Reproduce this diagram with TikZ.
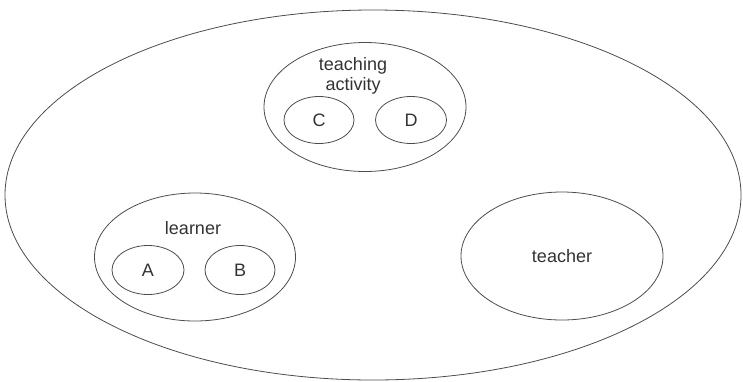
\documentclass[tikz,border=0pt]{standalone}
\usepackage{fontspec}
\setmainfont{Liberation Sans}
\usepackage{tikz}
\usetikzlibrary{shapes.geometric}

\begin{document}
\begin{tikzpicture}[x=1pt, y=-1pt,
    blob/.style={draw=black!70, line width=0.8pt, ellipse, inner sep=0pt, outer sep=0pt},
    lbl/.style={font=\fontsize{18}{20}\selectfont, text=black!80, align=center}]
    \useasboundingbox (0,0) rectangle (743,381);

    % Whole setting
    \node[blob, minimum width=736, minimum height=370] (world) at (373,195) {};

    % Teaching activity
    \node[blob, minimum width=202, minimum height=129] (activity) at (365,107) {};
    \node[lbl] (activitytext) at (353,76) {teaching\\activity};
    \node[blob, minimum width=70, minimum height=47] (C) at (319,120) {};
    \node[blob, minimum width=71, minimum height=47] (D) at (411,120) {};
    \node[lbl] (Ctext) at (C) {C};
    \node[lbl] (Dtext) at (D) {D};

    % Learner
    \node[blob, minimum width=201, minimum height=128] (learner) at (195,257) {};
    \node[lbl] (learnertext) at (193,228) {learner};
    \node[blob, minimum width=72, minimum height=49] (A) at (148,270) {};
    \node[blob, minimum width=70, minimum height=49] (B) at (240,270) {};
    \node[lbl] (Atext) at (A) {A};
    \node[lbl] (Btext) at (B) {B};

    % Teacher
    \node[blob, minimum width=202, minimum height=128] (teacher) at (562,256) {};
    \node[lbl] (teachertext) at (teacher) {teacher};

\end{tikzpicture}
\end{document}
